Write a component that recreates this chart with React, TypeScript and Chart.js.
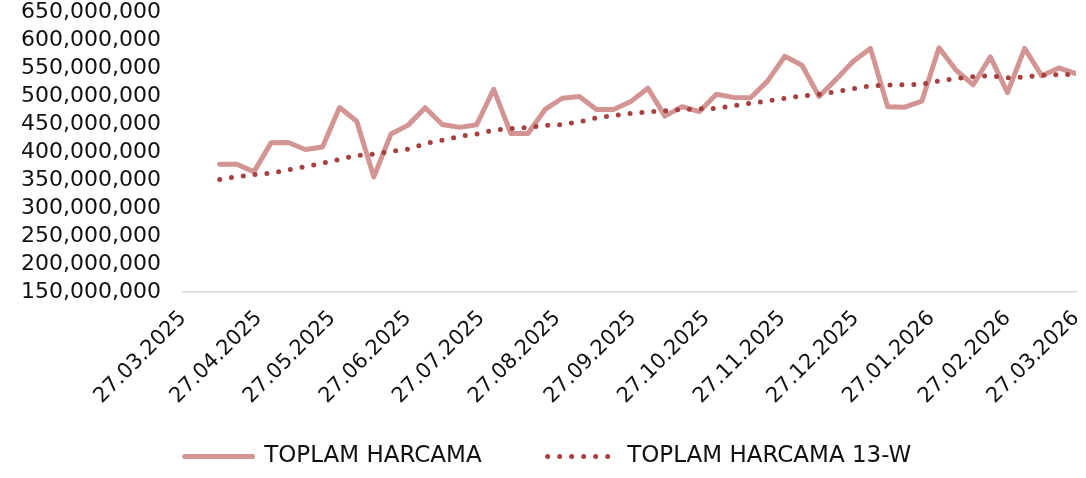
import React, { useEffect, useRef } from "react";
import { Chart, registerables } from "chart.js";

Chart.register(...registerables);

const tickLabels = [
  "27.03.2025", "27.04.2025", "27.05.2025", "27.06.2025", "27.07.2025",
  "27.08.2025", "27.09.2025", "27.10.2025", "27.11.2025", "27.12.2025",
  "27.01.2026", "27.02.2026", "27.03.2026",
];

const weekDates = [
  "11.04.2025", "18.04.2025", "25.04.2025", "02.05.2025", "09.05.2025",
  "16.05.2025", "23.05.2025", "30.05.2025", "06.06.2025", "13.06.2025",
  "20.06.2025", "27.06.2025", "04.07.2025", "11.07.2025", "18.07.2025",
  "25.07.2025", "01.08.2025", "08.08.2025", "15.08.2025", "22.08.2025",
  "29.08.2025", "05.09.2025", "12.09.2025", "19.09.2025", "26.09.2025",
  "03.10.2025", "10.10.2025", "17.10.2025", "24.10.2025", "31.10.2025",
  "07.11.2025", "14.11.2025", "21.11.2025", "28.11.2025", "05.12.2025",
  "12.12.2025", "19.12.2025", "26.12.2025", "02.01.2026", "09.01.2026",
  "16.01.2026", "23.01.2026", "30.01.2026", "06.02.2026", "13.02.2026",
  "20.02.2026", "27.02.2026", "06.03.2026", "13.03.2026", "20.03.2026",
  "27.03.2026",
];

// values in millions
const totalSpend = [
  378, 378, 364.5, 416.5, 417, 404.5, 409, 479.5, 455, 355.5,
  432, 448, 479, 449, 444, 448.5, 512, 433, 433, 476,
  496, 499, 476, 476, 490, 514, 464, 481, 472, 503,
  497.5, 497, 527, 571, 555, 499, 530, 562, 585, 481,
  480, 491, 586, 546, 520, 570, 506, 585, 536, 550,
  540,
];

const spend13W = [
  351, 356, 359.5, 362.5, 368, 374, 380, 387, 394, 396,
  401, 405, 415, 421, 428, 432, 439, 442, 443.5, 447.5,
  449, 454, 461, 465, 469, 471.5, 473.5, 476, 477, 478,
  482.5, 487, 491, 496, 500, 503, 507.5, 513, 518, 519.5,
  520, 521, 527, 531.5, 534.5, 536, 532.5, 534, 537, 538,
  538.5,
];

const seriesNames = ["TOPLAM HARCAMA", "TOPLAM HARCAMA 13-W"];

const SOLID = "#D39494";
const DOTTED = "#A63F3F";
const TEXT = "#111111";
const FONT = "DejaVu Sans";

function toUtc(s: string): number {
  const [d, m, y] = s.split(".").map(Number);
  return Date.UTC(y, m - 1, d);
}
const BASE = toUtc(tickLabels[0]);
const dayOf = (s: string) => Math.round((toUtc(s) - BASE) / 86400000);
const tickDays = tickLabels.map(dayOf);

// let rotated x labels draw below the axis box (avoid clipping)
const unclipXLabels = {
  id: "unclipXLabels",
  afterLayout(chart: any) {
    const x = chart.scales.x;
    if (x) x.bottom = chart.height;
  },
};

export default function App() {
  const ref = useRef<HTMLCanvasElement | null>(null);

  useEffect(() => {
    document.body.style.margin = "0";
    if (!ref.current) return;
    const chart = new Chart(ref.current, {
      type: "line",
      plugins: [unclipXLabels],
      data: {
        datasets: [
          {
            label: seriesNames[0],
            data: weekDates.map((d, i) => ({ x: dayOf(d), y: totalSpend[i] * 1e6 })),
            borderColor: SOLID,
            backgroundColor: SOLID,
            borderWidth: 5,
            pointRadius: 0,
            tension: 0,
            borderCapStyle: "round",
            borderJoinStyle: "round",
            order: 1,
          },
          {
            label: seriesNames[1],
            data: weekDates.map((d, i) => ({ x: dayOf(d), y: spend13W[i] * 1e6 })),
            borderColor: DOTTED,
            backgroundColor: DOTTED,
            borderWidth: 5,
            borderDash: [0, 11.9],
            borderCapStyle: "round",
            pointRadius: 0,
            tension: 0,
            order: 0,
          },
        ],
      },
      options: {
        responsive: false,
        animation: false,
        devicePixelRatio: 1,
        layout: { padding: { left: 20, right: 10, top: 0, bottom: 0 } },
        plugins: {
          tooltip: { enabled: false },
          legend: {
            position: "bottom",
            labels: {
              usePointStyle: true,
              pointStyleWidth: 68,
              padding: 66,
              color: TEXT,
              font: { family: FONT, size: 23 },
              generateLabels: () => [
                {
                  text: seriesNames[0],
                  strokeStyle: SOLID,
                  fillStyle: SOLID,
                  lineWidth: 5,
                  lineCap: "round",
                  lineDash: [],
                  pointStyle: "line",
                  datasetIndex: 0,
                  hidden: false,
                  fontColor: TEXT,
                },
                {
                  text: seriesNames[1],
                  strokeStyle: DOTTED,
                  fillStyle: DOTTED,
                  lineWidth: 5,
                  lineCap: "round",
                  lineDash: [0, 12],
                  pointStyle: "line",
                  datasetIndex: 1,
                  hidden: false,
                  fontColor: TEXT,
                },
              ],
            },
          },
        },
        scales: {
          x: {
            type: "linear",
            min: tickDays[0],
            max: tickDays[tickDays.length - 1],
            grid: { display: false, drawTicks: false },
            border: { display: true, color: "#D9D9D9", width: 1.5 },
            afterBuildTicks: (scale: any) => {
              scale.ticks = tickDays.map((v) => ({ value: v }));
            },
            afterFit: (scale: any) => {
              scale.height = 87;
              scale.paddingLeft = 0;
              scale.paddingRight = 0;
            },
            ticks: {
              autoSkip: false,
              minRotation: 45,
              maxRotation: 45,
              padding: 14,
              color: TEXT,
              font: { family: FONT, size: 21 },
              callback: (value: any) => {
                const i = tickDays.indexOf(Number(value));
                return i >= 0 ? tickLabels[i] : "";
              },
            },
          },
          y: {
            min: 150e6,
            max: 650e6,
            grid: { display: false, drawTicks: false },
            border: { display: false },
            afterFit: (scale: any) => {
              scale.width = 163;
              scale.paddingTop = 12;
              scale.paddingBottom = 0;
            },
            ticks: {
              autoSkip: false,
              stepSize: 50e6,
              padding: 22,
              color: TEXT,
              font: { family: FONT, size: 22 },
              callback: (value: any) => Number(value).toLocaleString("en-US"),
            },
          },
        },
      },
    } as any);
    return () => chart.destroy();
  }, []);

  return (
    <div style={{ width: 1086, height: 478 }}>
      <canvas ref={ref} width={1086} height={478} style={{ display: "block" }} />
    </div>
  );
}
